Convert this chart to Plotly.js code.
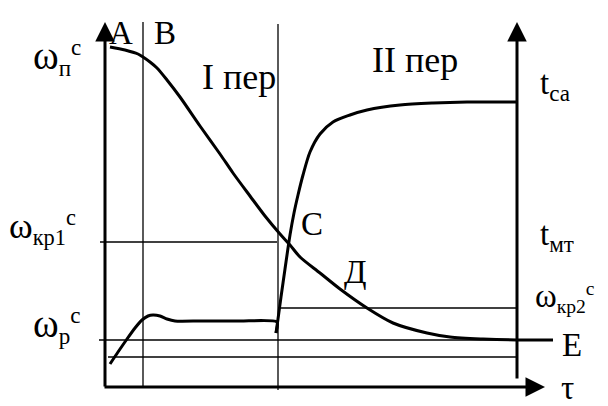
<!DOCTYPE html>
<html>
<head>
<meta charset="utf-8">
<script src="https://cdn.plot.ly/plotly-3.0.1.min.js"></script>
<style>
  html, body { margin: 0; padding: 0; background: #fff; }
  #chart { width: 608px; height: 406px; }
</style>
</head>
<body>
<div id="chart"></div>
<script>
// Drying kinetics sketch: material moisture ω and material temperature t versus time τ.

// Moisture curve ω(τ): А–В warm-up, В–С first (constant-rate) period, С–Д–Е second period
const tauMoist = [5, 20, 33, 38, 45, 52, 62, 75, 95, 115, 128, 145, 160, 175, 185, 195, 215, 235, 262, 288, 322, 345, 378, 412, 448];
const moist    = [340, 337, 333, 330, 325, 319, 307, 290, 261, 233, 214, 191, 171, 153, 142, 130, 114, 98, 79, 64, 54, 50, 48, 47, 47];

// Material temperature: warm-up and wet-bulb plateau during the first period
const tauTempI = [5, 13, 22, 30, 37, 43, 48, 55, 62, 70, 95, 135, 172, 171];
const tempI    = [23, 35, 48, 59, 67, 71, 72, 71, 68, 66, 66, 66, 65, 54];

// Material temperature rise towards the drying-agent temperature in the second period
const tauTempII = [171, 173, 176, 180, 185, 189, 193, 198, 205, 215, 228, 245, 262, 295, 328, 362, 411];
const tempII    = [54, 68, 90, 118, 152, 174, 192, 212, 235, 253, 265, 272, 277, 282, 284, 285, 285];

// Reference levels
const levelKr1 = 145;   // ω кр1
const levelP   = 47;    // ω р (equilibrium)
const levelLow = 30;
const levelKr2 = 79;    // ω кр2

// Period boundaries and the right-hand temperature axis
const tauB   = 38;
const tauC   = 173;
const tauEnd = 412;
const tauMax = 440;
const yMax   = 365;

const black = '#000';
const thin = 1.3;
const thick = 3;

const traces = [
  { x: tauMoist, y: moist, mode: 'lines', line: { color: black, width: thick, shape: 'spline', smoothing: 0.8 } },
  { x: tauTempI, y: tempI, mode: 'lines', line: { color: black, width: thick, shape: 'spline', smoothing: 0.6 } },
  { x: tauTempII, y: tempII, mode: 'lines', line: { color: black, width: thick, shape: 'spline', smoothing: 0.8 } }
];

function hline(y, x0, x1) {
  return { type: 'line', xref: 'x', yref: 'y', x0: x0, x1: x1, y0: y, y1: y, line: { color: black, width: thin } };
}
function vline(x, y0, y1) {
  return { type: 'line', xref: 'x', yref: 'y', x0: x, x1: x, y0: y0, y1: y1, line: { color: black, width: thin } };
}

const shapes = [
  hline(levelKr1, -5, tauC - 1),
  hline(levelP, -6, tauEnd),
  hline(levelLow, 3, tauEnd),
  hline(levelKr2, tauC, tauEnd),
  vline(tauB, 0, yMax),
  vline(tauC, -3, yMax - 2)
];

function axisArrow(x0, y0, x1, y1) {
  return {
    x: x1, y: y1, ax: x0, ay: y0, xref: 'x', yref: 'y', axref: 'x', ayref: 'y',
    text: '', showarrow: true, arrowhead: 2, arrowsize: 1.3, arrowwidth: thick, arrowcolor: black
  };
}

const serif = '"Liberation Serif", "Times New Roman", serif';
function label(text, x, y, size) {
  return {
    x: x, y: y, xref: 'x', yref: 'y', text: text, showarrow: false,
    xanchor: 'left', yanchor: 'middle', borderpad: 0,
    font: { family: serif, size: size || 33, color: black }
  };
}
// ω is set a little larger than the surrounding text
function omega(sub, size) {
  return '<span style="font-size:' + size + 'px">ω</span><sub>' + sub + '</sub><sup>c</sup>';
}

const annotations = [
  axisArrow(0, -1, 0, yMax),
  axisArrow(-2, 0, tauMax, 0),
  axisArrow(tauEnd, 7, tauEnd, yMax),
  label('А', 3, 354),
  label('В', 48, 354),
  label('I пер', 96, 310, 36),
  label('II пер', 266, 327, 36),
  label(omega('п', 39), -73, 330),
  label('t<sub>са</sub>', 434, 302),
  label(omega('кр1', 36), -97, 160, 32),
  label('С', 195, 163),
  label('t<sub>мт</sub>', 434, 151),
  label('Д', 238, 115),
  label(omega('кр2', 33), 429, 90, 28),
  label(omega('р', 39), -73, 62),
  label('Е', 456, 42),
  label('τ', 455, -1)
];

const layout = {
  width: 608, height: 406,
  margin: { l: 0, r: 0, t: 0, b: 0 },
  font: { family: serif, color: black },
  paper_bgcolor: '#fff', plot_bgcolor: '#fff',
  showlegend: false,
  xaxis: { range: [-105, 503], visible: false, fixedrange: true },
  yaxis: { range: [-19, 387], visible: false, fixedrange: true },
  shapes: shapes,
  annotations: annotations
};

Plotly.newPlot('chart', traces, layout, { staticPlot: true, displayModeBar: false });
</script>
</body>
</html>
